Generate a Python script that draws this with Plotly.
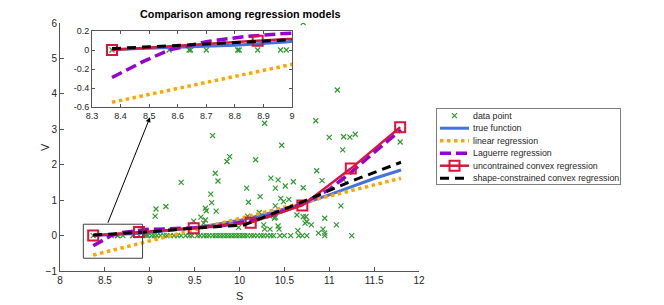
import plotly.graph_objects as go

# ---------------- data ----------------
zero_S = [8.37, 8.57, 8.64, 8.645, 8.70, 8.81, 8.815, 8.88, 8.96, 8.98, 9.02, 9.05, 9.08,
          9.12, 9.16, 9.19, 9.23, 9.27, 9.31, 9.35, 9.40, 9.44, 9.47, 9.53, 9.56, 9.60,
          9.63, 9.66, 9.70, 9.73, 9.76, 9.79, 9.82, 9.85, 9.88, 9.91, 9.94, 9.97, 10.0,
          10.03, 10.06, 10.09, 10.13, 10.16, 10.20, 10.24, 10.27, 10.31, 10.35, 10.38,
          10.45, 10.50, 10.57, 10.66, 10.70, 10.75, 10.95, 11.25]
pos_S = [10.71, 11.09, 10.85, 10.28, 9.70, 11.00, 11.16, 11.23, 11.29, 11.79, 10.47, 11.15,
         11.16, 11.13, 11.08, 10.18, 10.86, 10.35, 10.43, 10.60, 10.92, 10.51, 10.08, 10.40,
         10.71, 10.23, 10.46, 10.49, 10.55, 10.10, 10.40, 10.64, 10.71, 10.74, 10.34, 10.39,
         10.95, 10.75, 10.73, 10.80, 10.93, 10.88, 10.95, 10.65, 10.43, 10.44, 10.27, 10.28,
         10.34, 9.99, 10.09, 10.22, 10.40, 9.89, 9.86, 9.73, 9.76, 9.35, 9.68, 9.69, 9.07,
         9.18, 9.06, 9.62, 9.63, 9.74, 9.57, 9.62, 9.49, 9.60]
pos_V = [6.01, 4.11, 3.24, 3.17, 2.82, 2.77, 2.79, 2.78, 2.86, 2.64, 2.55, 2.42,
         1.57, 0.84, 0.30, 2.14, 1.83, 1.62, 1.57, 1.52, 1.55, 1.40, 1.34, 1.34,
         1.35, 1.10, 1.05, 0.96, 1.02, 0.94, 0.84, 0.58, 0.53, 0.53, 0.55, 0.49,
         0.49, 0.39, 0.35, 0.30, 0.18, 0.07, 0.07, 0.14, 0.27, 0.18, 0.30, 0.18,
         0.18, 0.23, 0.55, 0.65, 0.52, 2.23, 2.09, 1.76, 1.54, 1.50, 1.17, 0.93, 0.75,
         0.82, 0.55, 0.77, 0.70, 0.69, 0.52, 0.44, 0.41, 0.35]
data_S = zero_S + pos_S
data_V = [0.0] * len(zero_S) + pos_V

true_S = [8.37, 8.6, 8.8, 8.98, 9.2, 9.5, 9.8, 10.0, 10.3, 10.5, 10.7, 11.0, 11.25, 11.5, 11.8]
true_V = [0.005, 0.025, 0.05, 0.085, 0.14, 0.22, 0.34, 0.43, 0.61, 0.75, 0.89, 1.15, 1.39, 1.61, 1.85]

lin_S = [8.37, 11.8]
lin_V = [-0.55, 1.62]

lag_S = [8.37, 8.48, 8.57, 8.70, 8.83, 8.98, 9.2, 9.5, 9.8, 10.1, 10.4, 10.7, 11.0, 11.25, 11.5, 11.8]
lag_V = [-0.29, -0.12, 0.0, 0.088, 0.14, 0.175, 0.19, 0.22, 0.28, 0.40, 0.60, 0.90, 1.30, 1.80, 2.35, 2.98]

ucr_S = [8.37, 8.88, 9.49, 10.125, 10.70, 11.24, 11.79]
ucr_V = [0.0, 0.098, 0.205, 0.365, 0.85, 1.89, 3.06]

scr_S = [8.37, 8.98, 9.5, 10.05, 10.72, 11.24, 11.8]
scr_V = [0.015, 0.105, 0.21, 0.30, 0.97, 1.53, 2.07]

legend_labels = ["data point", "true function", "linear regression", "Laguerre regression",
                 "uncontrained convex regression", "shape-constrained convex regression"]

# ---------------- styles ----------------
GREEN = "#2f9a2f"
BLUE = "#4472e0"
ORANGE = "#ffa500"
PURPLE = "#9400d3"
RED = "#dc143c"
FONT = "Liberation Sans"
AX = "#555555"
TXT = "#262626"

PAGE_W, PAGE_H = 664, 305
OFF = 8  # default body margin of the html page
W, H = PAGE_W - OFF, PAGE_H - OFF


def px_x(p):
    return (p - OFF) / W


def px_y(p):
    return (PAGE_H - p) / H


styles = [
    dict(mode="markers", marker=dict(symbol="x-thin", size=5, line=dict(width=1.2, color=GREEN), color=GREEN)),
    dict(mode="lines", line=dict(color=BLUE, width=3)),
    dict(mode="lines", line=dict(color=ORANGE, width=3.5, dash="dot")),
    dict(mode="lines", line=dict(color=PURPLE, width=3.5, dash="11px,5px")),
    dict(mode="lines+markers", line=dict(color=RED, width=2.5),
         marker=dict(symbol="square-open", size=10, line=dict(width=2, color=RED), color=RED)),
    dict(mode="lines", line=dict(color="black", width=3, dash="9px,6px")),
]
series = [(data_S, data_V), (true_S, true_V), (lin_S, lin_V), (lag_S, lag_V),
          (ucr_S, ucr_V), (scr_S, scr_V)]

fig = go.Figure()
for xa, ya in (("x", "y"), ("x2", "y2")):
    for (sx, sy), st, name in zip(series, styles, legend_labels):
        fig.add_trace(go.Scatter(x=sx, y=sy, name=name, xaxis=xa, yaxis=ya,
                                 showlegend=False, hoverinfo="skip", **st))

# legend drawn on its own axes (pixel-unit ranges)
LX0, LX1, LY0, LY1 = 437, 620, 109, 184
row_y = [115.7, 128.2, 140.7, 153.2, 165.7, 178.2]
seg_x0, seg_x1, mid_x, text_x = 440, 469, 454.5, 470.5
for i, (st, name) in enumerate(zip(styles, legend_labels)):
    if st["mode"] == "markers":
        xs, ys = [mid_x], [row_y[i]]
    else:
        xs, ys = [seg_x0, seg_x1], [row_y[i]] * 2
    line_st = {k: v for k, v in st.items() if k != "marker"}
    line_st["mode"] = "markers" if st["mode"] == "markers" else "lines"
    if st["mode"] == "markers":
        line_st["marker"] = st["marker"]
    fig.add_trace(go.Scatter(x=xs, y=ys, xaxis="x3", yaxis="y3", showlegend=False,
                             hoverinfo="skip", **line_st))
    if st["mode"] == "lines+markers":
        fig.add_trace(go.Scatter(x=[mid_x], y=[row_y[i]], mode="markers", xaxis="x3", yaxis="y3",
                                 marker=st["marker"], showlegend=False, hoverinfo="skip"))
    fig.add_annotation(xref="x3", yref="y3", x=text_x, y=row_y[i], text=name, showarrow=False,
                       xanchor="left", yanchor="middle",
                       font=dict(family=FONT, size=8.8, color=TXT))

L, R, T, B = 60, 419, 23, 271
ix0, ix1, iy0, iy1 = 92, 292, 31, 107

common = dict(ticks="inside", tickcolor=AX, showline=True, linecolor=AX, linewidth=1,
              showgrid=False, zeroline=False, automargin=False)

fig.update_layout(
    width=W, height=H,
    margin=dict(l=0, r=0, t=0, b=0),
    paper_bgcolor="white", plot_bgcolor="white",
    font=dict(family=FONT, size=10, color=TXT),
    showlegend=False,
    xaxis=dict(domain=[px_x(L), px_x(R)], anchor="y", range=[8, 12],
               tickvals=[8, 8.5, 9, 9.5, 10, 10.5, 11, 11.5, 12],
               ticktext=["8", "8.5", "9", "9.5", "10", "10.5", "11", "11.5", "12"],
               ticklen=4, mirror=False, **common),
    yaxis=dict(domain=[px_y(B), px_y(T)], anchor="x", range=[-1, 6],
               tickvals=[-1, 0, 1, 2, 3, 4, 5, 6],
               ticklen=4, mirror=False, **common),
    xaxis2=dict(domain=[px_x(ix0), px_x(ix1)], anchor="y2", range=[8.3, 9],
                tickvals=[8.3, 8.4, 8.5, 8.6, 8.7, 8.8, 8.9, 9],
                ticktext=["8.3", "8.4", "8.5", "8.6", "8.7", "8.8", "8.9", "9"],
                ticklen=3, mirror="ticks", tickfont=dict(size=9), **common),
    yaxis2=dict(domain=[px_y(iy1), px_y(iy0)], anchor="x2", range=[-0.6, 0.2],
                tickvals=[-0.6, -0.4, -0.2, 0, 0.2],
                ticktext=["-0.6", "-0.4", "-0.2", "0", "0.2"],
                ticklen=3, mirror="ticks", tickfont=dict(size=9), **common),
    xaxis3=dict(domain=[px_x(LX0), px_x(LX1)], anchor="y3", range=[LX0, LX1],
                showticklabels=False, ticks="", showline=True, linecolor="#808080", mirror=True,
                showgrid=False, zeroline=False, automargin=False),
    yaxis3=dict(domain=[px_y(LY1), px_y(LY0)], anchor="x3", range=[LY1, LY0],
                showticklabels=False, ticks="", showline=True, linecolor="#808080", mirror=True,
                showgrid=False, zeroline=False, automargin=False),
)

# zoom box and arrow
fig.add_shape(type="rect", xref="x", yref="y", x0=8.26, x1=8.92, y0=-0.64, y1=0.32,
              line=dict(color="#404040", width=1))
fig.add_annotation(xref="x", yref="y", axref="x", ayref="y", x=9.003, y=3.34, ax=8.527, ay=0.32,
                   text="", showarrow=True, arrowhead=2, arrowsize=1, arrowwidth=1, arrowcolor="black")

# title and axis labels
fig.add_annotation(xref="paper", yref="paper", x=px_x((L + R) / 2), y=px_y(14), yanchor="middle",
                   text="<b>Comparison among regression models</b>", showarrow=False,
                   font=dict(family=FONT, size=10.8, color="black"))
fig.add_annotation(xref="paper", yref="paper", x=px_x(239.5), y=px_y(296), yanchor="middle",
                   text="S", showarrow=False, font=dict(family=FONT, size=11, color=TXT))
fig.add_annotation(xref="paper", yref="paper", x=px_x(37), y=px_y(147), yanchor="middle",
                   text="V", textangle=-90, showarrow=False, font=dict(family=FONT, size=11, color=TXT))

fig.write_html("out.html")
